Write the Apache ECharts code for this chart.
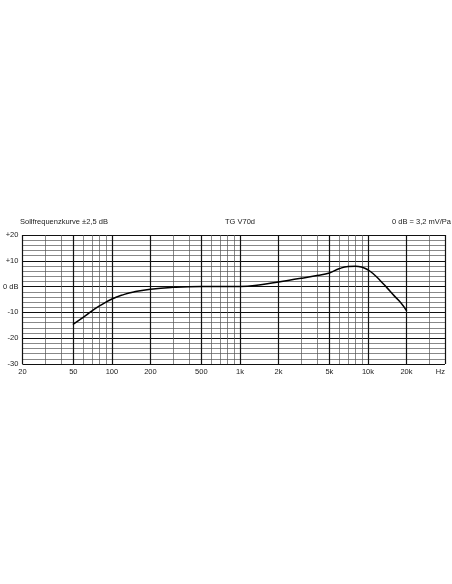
<!DOCTYPE html>
<html><head><meta charset="utf-8">
<script src="https://cdn.jsdelivr.net/npm/echarts@6/dist/echarts.min.js"></script>
<style>html,body{margin:0;padding:0;background:#fff}#c{width:452px;height:584px}</style>
</head><body><div id="c"></div>
<script>
const freqs = [50,60,70,80,100,125,150,200,300,500,700,1000,1500,2000,3000,4000,5000,6000,7000,8000,9000,10000,11000,12500,14000,16000,18000,20000];
const levels = [-14.5,-11.8,-9.4,-7.5,-4.8,-3.0,-2.0,-1.0,-0.3,0,0,0,0.8,1.8,3.2,4.3,5.3,7.0,7.8,7.9,7.5,6.5,5.0,2.3,-0.3,-3.5,-6.2,-9.3];
const gridFreqs = [20,30,40,50,60,70,80,90,100,200,300,400,500,600,700,800,900,1000,2000,3000,4000,5000,6000,7000,8000,9000,10000,20000,30000,40000];
const majorFreqs = [20,50,100,200,500,1000,2000,5000,10000,20000,40000];
const xTickValues = [20,50,100,200,500,1000,2000,5000,10000,20000];
const xTickLabels = ['20','50','100','200','500','1k','2k','5k','10k','20k'];
const yTickValues = [20,10,0,-10,-20,-30];
const yTickLabels = ['+20','+10','0 dB','-10','-20','-30'];
const titleLeft = 'Sollfrequenzkurve ±2,5 dB';
const titleCenter = 'TG V70d';
const titleRight = '0 dB = 3,2 mV/Pa';

const font = 'Liberation Sans, Arial, sans-serif';
const txt = {fontFamily: font, fontSize: 7.5, color: '#222', fontWeight: 'normal'};

const vLines = gridFreqs.map(f => {
  const major = majorFreqs.includes(f);
  const idx = xTickValues.indexOf(f);
  return {
    xAxis: f,
    lineStyle: {color: major ? '#111' : '#555', width: major ? 1.2 : 0.7, type: 'solid'},
    label: idx >= 0 ? {show: true, position: 'start', distance: 4, formatter: xTickLabels[idx], ...txt} : {show: false}
  };
});

const chart = echarts.init(document.getElementById('c'), null, {renderer: 'canvas'});
chart.setOption({
  animation: false,
  backgroundColor: '#fff',
  title: [
    {text: titleLeft, left: 20, top: 218, padding: 0, textStyle: txt},
    {text: titleCenter, left: 225, top: 218, padding: 0, textStyle: txt},
    {text: titleRight, right: 1, top: 218, padding: 0, textStyle: txt}
  ],
  grid: {left: 20.5, right: 7, top: 235, bottom: 220, containLabel: false},
  xAxis: {
    type: 'log', logBase: 10, min: 20, max: 40000,
    axisLine: {show: false, onZero: false}, axisTick: {show: false}, axisLabel: {show: false},
    splitLine: {show: false},
    name: 'Hz', nameLocation: 'end', nameGap: 0,
    nameTextStyle: {...txt, align: 'right', verticalAlign: 'top', padding: [4, 0, 0, 0]}
  },
  yAxis: {
    type: 'value', min: -30, max: 20, interval: 10,
    axisLine: {show: false}, axisTick: {show: false},
    axisLabel: {margin: 4, ...txt, formatter: v => { const i = yTickValues.indexOf(v); return i >= 0 ? yTickLabels[i] : ''; }},
    splitLine: {show: true, lineStyle: {color: '#111', width: 1.2}},
    minorTick: {show: false, splitNumber: 5},
    minorSplitLine: {show: true, lineStyle: {color: '#555', width: 0.7}}
  },
  series: [
    {
      type: 'line', data: [], silent: true,
      markLine: {silent: true, symbol: ['none','none'], animation: false, data: vLines}
    },
    {
      type: 'line', data: freqs.map((f, i) => [f, levels[i]]),
      smooth: 0.5, showSymbol: false, symbol: 'none',
      lineStyle: {color: '#000', width: 1.5, cap: 'round', join: 'round'}, z: 10
    }
  ]
});
</script></body></html>
